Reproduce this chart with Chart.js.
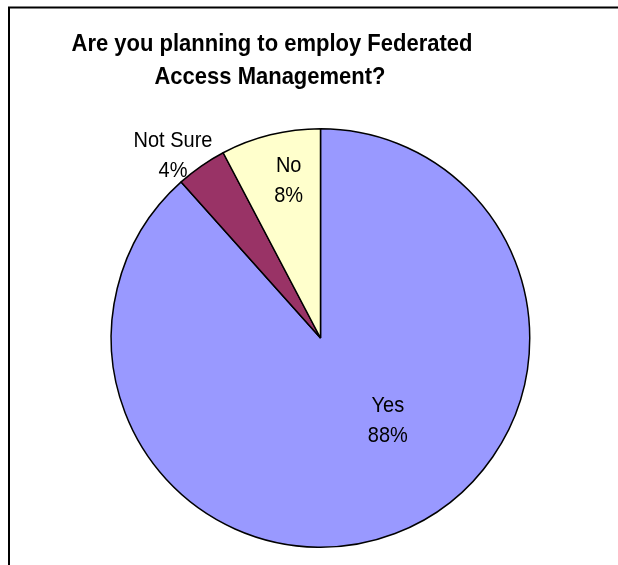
<!DOCTYPE html>
<html>
<head>
<meta charset="utf-8">
<script src="https://cdn.jsdelivr.net/npm/chart.js@4/dist/chart.umd.min.js"></script>
<style>
  html, body { margin: 0; padding: 0; background: #ffffff; }
  #wrap { width: 618px; height: 565px; position: relative; }
</style>
</head>
<body>
<div id="wrap"><canvas id="c" width="618" height="565"></canvas></div>
<script>
// ---- data ----
const categories = ["Yes", "Not Sure", "No"];
const values = [88.4, 3.9, 7.7];
const colors = ["#9999FF", "#993366", "#FFFFCC"];
const titleLines = ["Are you planning to employ Federated", "Access Management?"];

// label placement relative to pie centre, in fractions of the radius (centre of the two-line block)
const labelPlacement = [
  { dx: 0.322, dy: 0.395 },
  { dx: -0.705, dy: -0.871 },
  { dx: -0.152, dy: -0.752 }
];

const total = values.reduce((a, b) => a + b, 0);

function drawText(ctx, text, x, y, sy) {
  ctx.save();
  ctx.translate(x, y);
  ctx.scale(1, sy);
  ctx.fillText(text, 0, 0);
  ctx.restore();
}

const framePlugin = {
  id: 'frame',
  beforeDraw(chart) {
    const ctx = chart.ctx;
    ctx.save();
    ctx.fillStyle = '#ffffff';
    ctx.fillRect(0, 0, chart.width, chart.height);
    ctx.strokeStyle = '#000000';
    ctx.lineWidth = 2;
    ctx.beginPath();
    ctx.moveTo(9, chart.height + 2);
    ctx.lineTo(9, 7.5);
    ctx.lineTo(chart.width + 2, 7.5);
    ctx.stroke();
    ctx.restore();
  }
};

const textPlugin = {
  id: 'texts',
  afterDraw(chart) {
    const ctx = chart.ctx;
    ctx.save();
    // title
    ctx.fillStyle = '#000000';
    ctx.textAlign = 'center';
    ctx.textBaseline = 'middle';
    ctx.font = 'bold 22px "Liberation Sans", Arial, sans-serif';
    drawText(ctx, titleLines[0], 272, 44, 1.12);
    drawText(ctx, titleLines[1], 270, 77, 1.12);
    // data labels
    ctx.font = '20px "Liberation Sans", Arial, sans-serif';
    const meta = chart.getDatasetMeta(0);
    meta.data.forEach((arc, i) => {
      const r = arc.outerRadius;
      const cx = arc.x + labelPlacement[i].dx * r;
      const cy = arc.y + labelPlacement[i].dy * r;
      const pct = Math.round(values[i] / total * 100) + '%';
      drawText(ctx, categories[i], cx, cy - 15, 1.1);
      drawText(ctx, pct, cx, cy + 15, 1.1);
    });
    ctx.restore();
  }
};

new Chart(document.getElementById('c'), {
  type: 'pie',
  data: {
    labels: categories,
    datasets: [{
      data: values,
      backgroundColor: colors,
      borderColor: '#000000',
      borderWidth: 1.5
    }]
  },
  options: {
    responsive: false,
    animation: false,
    events: [],
    layout: { padding: { top: 128, bottom: 17, left: 101, right: 78 } },
    plugins: {
      legend: { display: false },
      title: { display: false },
      tooltip: { enabled: false }
    }
  },
  plugins: [framePlugin, textPlugin]
});
</script>
</body>
</html>
